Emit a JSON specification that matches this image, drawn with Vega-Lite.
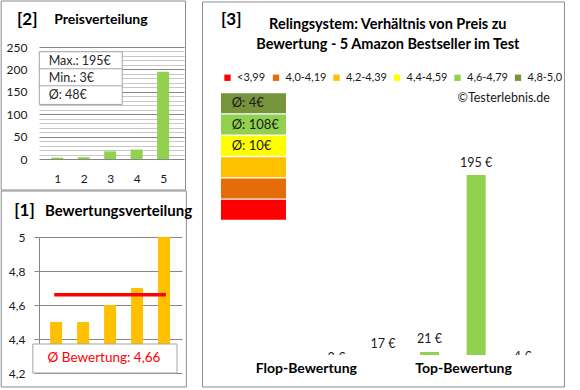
{
  "$schema": "https://vega.github.io/schema/vega-lite/v6.json",
  "padding": 0,
  "background": "white",
  "spacing": 176,
  "bounds": "flush",
  "resolve": {"scale": {"x": "independent", "y": "independent", "color": "independent"}},
  "config": {
    "font": "Lato",
    "view": {"stroke": null},
    "locale": {"number": {"decimal": ",", "thousands": ".", "grouping": [3], "currency": ["", " €"]}}
  },
  "datasets": {
    "preise": [
      {"rang": 1, "preis": 3},
      {"rang": 2, "preis": 4},
      {"rang": 3, "preis": 17},
      {"rang": 4, "preis": 21},
      {"rang": 5, "preis": 195}
    ],
    "bewertungen": [
      {"rang": 1, "bewertung": 4.5},
      {"rang": 2, "bewertung": 4.5},
      {"rang": 3, "bewertung": 4.6},
      {"rang": 4, "bewertung": 4.7},
      {"rang": 5, "bewertung": 5.0}
    ],
    "produkte": [
      {"nr": 1, "preis": 3, "bewertung": 4.5, "klasse": "4,4-4,59"},
      {"nr": 2, "preis": 17, "bewertung": 4.5, "klasse": "4,4-4,59"},
      {"nr": 3, "preis": 21, "bewertung": 4.6, "klasse": "4,6-4,79"},
      {"nr": 4, "preis": 195, "bewertung": 4.7, "klasse": "4,6-4,79"},
      {"nr": 5, "preis": 4, "bewertung": 5.0, "klasse": "4,8-5,0"}
    ],
    "preisstatistik": [
      {"zeile": 1, "stat": "Max.: 195€"},
      {"zeile": 2, "stat": "Min.: 3€"},
      {"zeile": 3, "stat": "Ø: 48€"}
    ],
    "schnitt": [{"wert": 4.66, "text": "Ø Bewertung: 4,66"}],
    "klassen": [
      {"stufe": 1, "klasse": "4,8-5,0", "txt": "Ø: 4€"},
      {"stufe": 2, "klasse": "4,6-4,79", "txt": "Ø: 108€"},
      {"stufe": 3, "klasse": "4,4-4,59", "txt": "Ø: 10€"},
      {"stufe": 4, "klasse": "4,2-4,39", "txt": ""},
      {"stufe": 5, "klasse": "4,0-4,19", "txt": ""},
      {"stufe": 6, "klasse": "<3,99", "txt": ""}
    ]
  },
  "hconcat": [
    {
      "vconcat": [
        {
          "width": 145,
          "height": 112,
          "resolve": {"scale": {"y": "independent"}, "axis": {"x": "independent", "y": "independent"}},
          "layer": [
            {
              "resolve": {"axis": {"x": "independent", "y": "independent"}},
              "layer": [
                {
                  "data": {"name": "preise"},
                  "mark": {"type": "bar", "size": 12, "color": "#92D050"},
                  "encoding": {
                    "x": {"field": "rang", "type": "quantitative",
                      "scale": {"domain": [0.5, 5.6], "nice": false, "zero": false},
                      "axis": {"values": [1, 2, 3, 4, 5], "title": null, "grid": false, "ticks": false, "domain": false, "labelPadding": 14, "labelFontSize": 12, "labelColor": "#1a1a1a", "format": "d", "labelOverlap": false}},
                    "y": {"field": "preis", "type": "quantitative",
                      "scale": {"domain": [0, 250], "nice": false, "zero": false},
                      "axis": {"values": [0,10,20,30,40,50,60,70,80,90,100,110,120,130,140,150,160,170,180,190,200,210,220,230,240,250],
                        "title": null, "ticks": false, "domain": false, "labelPadding": 12, "labelFontSize": 12, "labelColor": "#1a1a1a",
                        "labelOverlap": false, "labelBound": false, "format": "d",
                        "labelExpr": "datum.value % 50 === 0 ? datum.label : ''",
                        "gridColor": {"condition": {"test": "datum.value % 50 === 0", "value": "#868686"}, "value": "#c8c8c8"}}}
                  }
                },
                {
                  "data": {"values": [{}]},
                  "mark": {"type": "rect", "filled": false, "stroke": "#8c8c8c", "strokeWidth": 1},
                  "encoding": {
                    "x": {"datum": -1.118, "type": "quantitative", "axis": null},
                    "x2": {"datum": 5.846},
                    "y": {"datum": 352.7, "type": "quantitative", "axis": null},
                    "y2": {"datum": -69.2}
                  }
                },
                {
                  "data": {"values": [{}]},
                  "mark": {"type": "text", "text": "[2]", "align": "left", "baseline": "middle", "fontSize": 17, "fontWeight": "bold", "color": "#000000"},
                  "encoding": {
                    "x": {"datum": -0.52, "type": "quantitative", "axis": null},
                    "y": {"datum": 310.3, "type": "quantitative", "axis": null}
                  }
                },
                {
                  "data": {"values": [{}]},
                  "mark": {"type": "text", "text": "Preisverteilung", "align": "left", "baseline": "middle", "fontSize": 14, "fontWeight": "bold", "color": "#000000"},
                  "encoding": {
                    "x": {"datum": 0.887, "type": "quantitative", "axis": null},
                    "y": {"datum": 310.3, "type": "quantitative", "axis": null}
                  }
                }
              ]
            },
            {
              "data": {"name": "preisstatistik"},
              "layer": [
                {
                  "mark": {"type": "bar", "orient": "horizontal", "size": 18.67, "fill": "white", "stroke": "#a6a6a6", "strokeWidth": 1},
                  "encoding": {
                    "x": {"datum": 0.324, "type": "quantitative", "axis": null},
                    "x2": {"datum": 3.455},
                    "y": {"field": "zeile", "type": "quantitative",
                      "scale": {"domain": [0.4643, 6.464], "reverse": true, "nice": false, "zero": false}, "axis": null}
                  }
                },
                {
                  "mark": {"type": "text", "align": "left", "baseline": "middle", "fontSize": 12.5, "color": "#262626"},
                  "encoding": {
                    "x": {"datum": 0.676, "type": "quantitative", "axis": null},
                    "y": {"field": "zeile", "type": "quantitative", "axis": null},
                    "text": {"field": "stat"}
                  }
                }
              ]
            }
          ]
        },
        {
          "width": 143,
          "height": 136,
          "resolve": {"axis": {"x": "independent", "y": "independent"}},
          "layer": [
            {
              "data": {"name": "bewertungen"},
              "mark": {"type": "bar", "size": 12, "color": "#FFC000"},
              "encoding": {
                "x": {"field": "rang", "type": "quantitative",
                  "scale": {"domain": [0.55, 5.48], "nice": false, "zero": false}, "axis": null},
                "y": {"field": "bewertung", "type": "quantitative",
                  "scale": {"domain": [4.2, 5.0], "nice": false, "zero": false},
                  "axis": {"values": [4.2, 4.4, 4.6, 4.8, 5.0], "format": ".1~f", "title": null,
                    "labelOverlap": false, "labelBound": false,
                    "gridColor": "#868686", "domainColor": "#868686", "tickColor": "#868686", "tickSize": 5,
                    "labelPadding": 9, "labelFontSize": 12, "labelColor": "#1a1a1a"}},
                "y2": {"datum": 4.2}
              }
            },
            {
              "data": {"name": "schnitt"},
              "mark": {"type": "rule", "color": "#FF0000", "strokeWidth": 3.5},
              "encoding": {
                "x": {"datum": 0.929, "type": "quantitative", "axis": null},
                "x2": {"datum": 5.067},
                "y": {"field": "wert", "type": "quantitative", "axis": null}
              }
            },
            {
              "data": {"values": [{}]},
              "mark": {"type": "rect", "fill": "white", "stroke": "#a6a6a6", "strokeWidth": 1},
              "encoding": {
                "x": {"datum": 0.136, "type": "quantitative", "axis": null},
                "x2": {"datum": 5.48},
                "y": {"datum": 4.3706, "type": "quantitative", "axis": null},
                "y2": {"datum": 4.2}
              }
            },
            {
              "data": {"name": "schnitt"},
              "mark": {"type": "text", "align": "center", "baseline": "middle", "fontSize": 13.5, "color": "#FF0000"},
              "encoding": {
                "x": {"datum": 2.774, "type": "quantitative", "axis": null},
                "y": {"datum": 4.288, "type": "quantitative", "axis": null},
                "text": {"field": "text"}
              }
            },
            {
              "data": {"values": [{}]},
              "mark": {"type": "rect", "filled": false, "stroke": "#8c8c8c", "strokeWidth": 1},
              "encoding": {
                "x": {"datum": -1.036, "type": "quantitative", "axis": null},
                "x2": {"datum": 5.826},
                "y": {"datum": 5.2706, "type": "quantitative", "axis": null},
                "y2": {"datum": 4.1176}
              }
            },
            {
              "data": {"values": [{}]},
              "mark": {"type": "text", "text": "[1]", "align": "left", "baseline": "middle", "fontSize": 17, "fontWeight": "bold", "color": "#000000"},
              "encoding": {
                "x": {"datum": -0.553, "type": "quantitative", "axis": null},
                "y": {"datum": 5.153, "type": "quantitative", "axis": null}
              }
            },
            {
              "data": {"values": [{}]},
              "mark": {"type": "text", "text": "Bewertungsverteilung", "align": "left", "baseline": "middle", "fontSize": 15, "fontWeight": "bold", "color": "#000000"},
              "encoding": {
                "x": {"datum": 0.584, "type": "quantitative", "axis": null},
                "y": {"datum": 5.153, "type": "quantitative", "axis": null}
              }
            }
          ]
        }
      ],
      "spacing": 78,
      "bounds": "flush",
      "resolve": {"scale": {"x": "independent", "y": "independent"}}
    },
    {
      "width": 336,
      "height": 308,
      "resolve": {"scale": {"y": "independent"}},
      "layer": [
        {
          "layer": [
            {
              "data": {"name": "produkte"},
              "mark": {"type": "bar", "size": 19, "clip": true},
              "encoding": {
                "x": {"field": "nr", "type": "quantitative",
                  "scale": {"domain": [-1.5, 5.5], "nice": false, "zero": false}, "axis": null},
                "y": {"field": "preis", "type": "quantitative",
                  "scale": {"domain": [18, 321], "nice": false, "zero": false}, "axis": null},
                "y2": {"datum": 18},
                "color": {"field": "klasse", "type": "nominal",
                  "scale": {"domain": ["<3,99", "4,0-4,19", "4,2-4,39", "4,4-4,59", "4,6-4,79", "4,8-5,0"],
                    "range": ["#FF0000", "#E46C0A", "#FFC000", "#FFFF00", "#92D050", "#77933C"]},
                  "legend": {"orient": "none", "direction": "horizontal", "legendX": 7, "legendY": 25, "title": null,
                    "symbolType": "square", "symbolSize": 40, "symbolStrokeWidth": 0, "labelFontSize": 11,
                    "labelColor": "#1a1a1a", "labelOffset": 4, "columnPadding": 4.5, "gridAlign": "each", "padding": 0}}
              }
            },
            {
              "data": {"name": "produkte"},
              "mark": {"type": "text", "clip": true, "baseline": "middle", "dy": -12.5, "fontSize": 12.5, "color": "#1a1a1a"},
              "encoding": {
                "x": {"field": "nr", "type": "quantitative", "axis": null},
                "y": {"field": "preis", "type": "quantitative", "axis": null},
                "text": {"field": "preis", "type": "quantitative", "format": "$d"}
              }
            },
            {
              "data": {"values": [{}]},
              "mark": {"type": "rect", "filled": false, "stroke": "#8c8c8c", "strokeWidth": 1},
              "encoding": {
                "x": {"datum": -1.875, "type": "quantitative", "axis": null},
                "x2": {"datum": 5.896},
                "y": {"datum": 365.3, "type": "quantitative", "axis": null},
                "y2": {"datum": -13.5}
              }
            },
            {
              "data": {"values": [{}]},
              "mark": {"type": "text", "text": "[3]", "align": "left", "baseline": "middle", "fontSize": 17, "fontWeight": "bold", "color": "#000000"},
              "encoding": {
                "x": {"datum": -1.479, "type": "quantitative", "axis": null},
                "y": {"datum": 347.6, "type": "quantitative", "axis": null}
              }
            },
            {
              "data": {"values": [{}]},
              "mark": {"type": "text", "text": "Relingsystem: Verhältnis von Preis zu", "align": "center", "baseline": "middle", "fontSize": 14.5, "fontWeight": "bold", "color": "#000000"},
              "encoding": {
                "x": {"datum": 2.104, "type": "quantitative", "axis": null},
                "y": {"datum": 342.6, "type": "quantitative", "axis": null}
              }
            },
            {
              "data": {"values": [{}]},
              "mark": {"type": "text", "text": "Bewertung - 5 Amazon Bestseller im Test", "align": "center", "baseline": "middle", "fontSize": 14.5, "fontWeight": "bold", "color": "#000000"},
              "encoding": {
                "x": {"datum": 2.104, "type": "quantitative", "axis": null},
                "y": {"datum": 323.0, "type": "quantitative", "axis": null}
              }
            },
            {
              "data": {"values": [{}]},
              "mark": {"type": "text", "text": "©Testerlebnis.de", "align": "right", "baseline": "middle", "fontSize": 12.5, "color": "#1a1a1a"},
              "encoding": {
                "x": {"datum": 5.583, "type": "quantitative", "axis": null},
                "y": {"datum": 271.3, "type": "quantitative", "axis": null}
              }
            },
            {
              "data": {"values": [{}]},
              "mark": {"type": "text", "text": "Flop-Bewertung", "align": "center", "baseline": "middle", "fontSize": 14, "fontWeight": "bold", "color": "#000000"},
              "encoding": {
                "x": {"datum": 0.354, "type": "quantitative", "axis": null},
                "y": {"datum": 4.2, "type": "quantitative", "axis": null}
              }
            },
            {
              "data": {"values": [{}]},
              "mark": {"type": "text", "text": "Top-Bewertung", "align": "center", "baseline": "middle", "fontSize": 14, "fontWeight": "bold", "color": "#000000"},
              "encoding": {
                "x": {"datum": 3.729, "type": "quantitative", "axis": null},
                "y": {"datum": 4.2, "type": "quantitative", "axis": null}
              }
            }
          ]
        },
        {
          "data": {"name": "klassen"},
          "layer": [
            {
              "mark": {"type": "bar", "orient": "horizontal", "size": 20},
              "encoding": {
                "x": {"datum": -1.479, "type": "quantitative", "axis": null},
                "x2": {"datum": -0.083},
                "y": {"field": "stufe", "type": "quantitative",
                  "scale": {"domain": [-1.409, 12.591], "reverse": true, "nice": false, "zero": false}, "axis": null},
                "color": {"field": "klasse", "type": "nominal"}
              }
            },
            {
              "mark": {"type": "text", "align": "left", "baseline": "middle", "fontSize": 13, "color": "#1a1a1a"},
              "encoding": {
                "x": {"datum": -1.25, "type": "quantitative", "axis": null},
                "y": {"field": "stufe", "type": "quantitative", "axis": null},
                "text": {"field": "txt"}
              }
            }
          ]
        }
      ]
    }
  ]
}
